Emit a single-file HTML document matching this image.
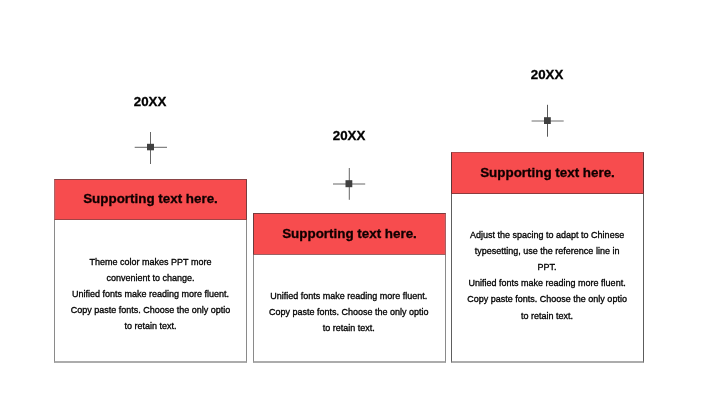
<!DOCTYPE html>
<html lang="en">
<head>
<meta charset="utf-8">
<title>Timeline</title>
<style>
html,body{margin:0;padding:0;background:#fff;}
body{-webkit-font-smoothing:antialiased;width:720px;height:404px;position:relative;overflow:hidden;font-family:"Liberation Sans",sans-serif;color:#000;}
.box{position:absolute;box-sizing:border-box;border:1px solid #8a8a8a;border-bottom:2px solid #acacac;background:#fff;width:193px;}
.hd{position:absolute;left:-1px;top:-1px;right:-1px;box-sizing:border-box;background:#f74c4e;
 border:1px solid #8a4446;border-left-color:#b06264;border-right-color:#7a3c3e;border-bottom-color:#a04446;
 font-weight:bold;font-size:13.4px;text-align:center;white-space:nowrap;color:#100000;-webkit-text-stroke:0.3px #100000;}
.yr{position:absolute;font-weight:bold;font-size:13.3px;-webkit-text-stroke:0.3px #000;text-align:center;width:100px;white-space:nowrap;line-height:16px;}
.tx{position:absolute;left:0;right:0;text-align:center;font-size:9px;line-height:16px;white-space:nowrap;color:#000;-webkit-text-stroke:0.3px #000;}
.tx div{height:16px;transform:scaleY(1.07);transform-origin:50% 69.5%;}
.yr,.hd,.tx{will-change:transform;}
.mk{position:absolute;width:34px;height:34px;overflow:visible;}
</style>
</head>
<body>

<div class="yr" style="left:100px;top:94px;">20XX</div>
<div class="yr" style="left:298.5px;top:128px;">20XX</div>
<div class="yr" style="left:496.5px;top:67px;">20XX</div>

<svg class="mk" style="left:134px;top:131px;" viewBox="0 0 34 34"><path d="M0.7 16.3H33M16.5 1V33" stroke="#666" stroke-width="1" fill="none"/><rect x="13" y="12.8" width="7" height="6.5" fill="#404040"/></svg>
<svg class="mk" style="left:332px;top:167px;" viewBox="0 0 34 34"><path d="M1 17H33.2M17.3 1V32.8" stroke="#666" stroke-width="1" fill="none"/><rect x="13.5" y="13.2" width="6.8" height="7" fill="#404040"/></svg>
<svg class="mk" style="left:531px;top:104px;" viewBox="0 0 34 34"><path d="M0.6 17H32.7" stroke="#6e6e6e" stroke-width="1" fill="none"/><path d="M16.5 0.8V32.7" stroke="#5a5a5a" stroke-width="1" fill="none"/><rect x="13" y="13.2" width="6.8" height="6.8" fill="#404040"/></svg>

<div class="box" style="left:54px;top:179px;height:184px;">
  <div class="hd" style="height:41px;line-height:37px;box-shadow:inset 1px 0 0 #e65457;">Supporting text here.</div>
  <div class="tx" style="top:74px;">
    <div>Theme color makes PPT more</div>
    <div>convenient to change.</div>
    <div>Unified fonts make reading more fluent.</div>
    <div>Copy paste fonts. Choose the only optio</div>
    <div>to retain text.</div>
  </div>
</div>

<div class="box" style="left:253px;top:213px;height:150px;">
  <div class="hd" style="height:42px;line-height:39px;border-top-color:#7c3c3e;border-bottom-color:#9c6264;border-right-color:#a86062;border-left-color:#6a3a3c;box-shadow:inset -1px 0 0 #ea5356;">Supporting text here.</div>
  <div class="tx" style="top:74px;transform:translate(-0.7px,0.4px);">
    <div>Unified fonts make reading more fluent.</div>
    <div>Copy paste fonts. Choose the only optio</div>
    <div>to retain text.</div>
  </div>
</div>

<div class="box" style="left:451px;top:152px;height:211px;border-left-color:#5e5e5e;border-right-color:#5c5c5c;">
  <div class="hd" style="height:42px;line-height:40px;border-top-color:#b4494b;border-bottom-color:#8c3c3e;border-left-color:#603436;border-right-color:#6a3032;box-shadow:inset -1px 0 0 #ea5658;">Supporting text here.</div>
  <div class="tx" style="top:74px;transform:translate(-0.4px,0);">
    <div>Adjust the spacing to adapt to Chinese</div>
    <div>typesetting, use the reference line in</div>
    <div>PPT.</div>
    <div>Unified fonts make reading more fluent.</div>
    <div style="top:0.3px;position:relative;">Copy paste fonts. Choose the only optio</div>
    <div style="top:0.6px;position:relative;">to retain text.</div>
  </div>
</div>

</body>
</html>
